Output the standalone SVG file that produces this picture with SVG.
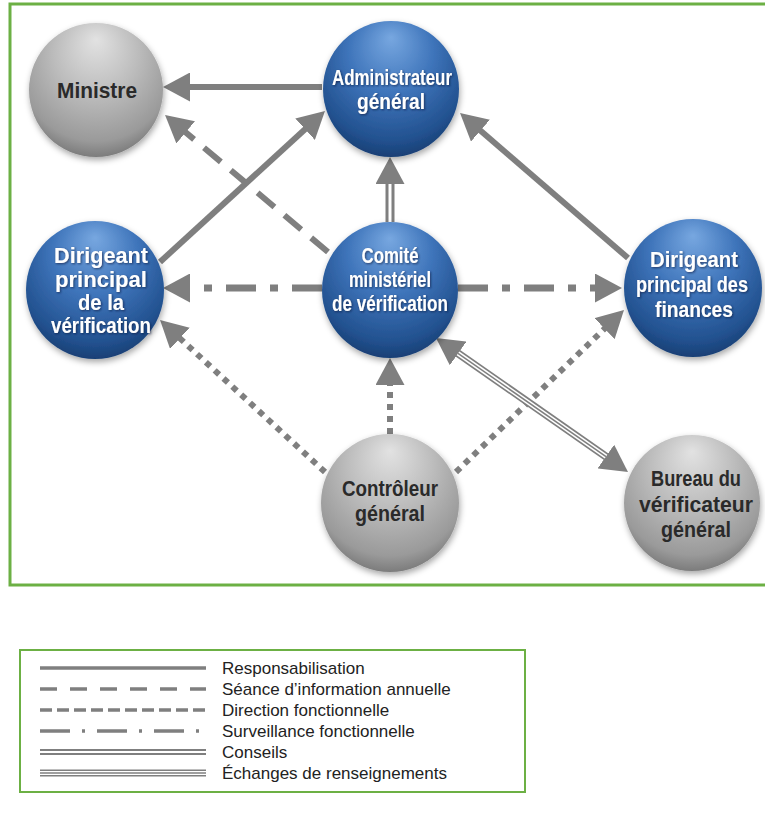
<svg xmlns="http://www.w3.org/2000/svg" width="765" height="838" viewBox="0 0 765 838">
<style>
.frame{fill:none;stroke:#6cb044;stroke-width:3}
.c{stroke:#7f7f7f;fill:none}
.solid{stroke-width:6}
.dash{stroke-width:6;stroke-dasharray:22 13}
.dot{stroke-width:6;stroke-dasharray:6 6}
.dd{stroke-width:7;stroke-dasharray:30 14 8 14}
.wl{stroke:#ffffff;fill:none}
.tb{font-family:"Liberation Sans",Arial,sans-serif;font-weight:bold;font-size:22px;fill:#ffffff;text-anchor:middle}
.tg{font-family:"Liberation Sans",Arial,sans-serif;font-weight:bold;font-size:22px;fill:#2a2a2a;text-anchor:middle}
.lg{font-family:"Liberation Sans",Arial,sans-serif;font-size:17px;fill:#222222}
.ls{stroke:#7f7f7f;fill:none}
</style>
<defs>
<radialGradient id="gb" cx="0.5" cy="0.35" r="0.7" fx="0.5" fy="0.12">
<stop offset="0" stop-color="#77a7e0"/>
<stop offset="0.45" stop-color="#3e74ba"/>
<stop offset="0.82" stop-color="#22518f"/>
<stop offset="1" stop-color="#15386a"/>
</radialGradient>
<radialGradient id="gg" cx="0.5" cy="0.35" r="0.7" fx="0.5" fy="0.12">
<stop offset="0" stop-color="#e2e2e2"/>
<stop offset="0.45" stop-color="#bcbcbc"/>
<stop offset="0.82" stop-color="#9a9a9a"/>
<stop offset="1" stop-color="#6f6f6f"/>
</radialGradient>
<filter id="sh" x="-20%" y="-20%" width="140%" height="150%">
<feDropShadow dx="1" dy="3" stdDeviation="3" flood-color="#000" flood-opacity="0.35"/>
</filter>
<filter id="ts" x="-10%" y="-30%" width="120%" height="160%">
<feDropShadow dx="1" dy="1" stdDeviation="0.8" flood-color="#0a1f40" flood-opacity="0.7"/>
</filter>
<marker id="ah" viewBox="0 0 27 29" markerWidth="27" markerHeight="29" refX="17" refY="14.5" orient="auto-start-reverse" markerUnits="userSpaceOnUse">
<path d="M0,0L27,14.5L0,29z" fill="#7f7f7f"/>
</marker>
</defs>
<rect width="765" height="838" fill="#ffffff"/>
<rect class="frame" x="10" y="4" width="757" height="581"/>

<g id="connectors">
<!-- Responsabilisation -->
<path class="c solid" d="M322,87L173,87" marker-end="url(#ah)"/>
<path class="c solid" d="M160,262L317.6,117.8" marker-end="url(#ah)"/>
<path class="c solid" d="M628,258L467.6,119.5" marker-end="url(#ah)"/>
<!-- Conseils -->
<path class="c" stroke-width="9" d="M390,222L390,167" marker-end="url(#ah)"/>
<path class="wl" stroke-width="3" d="M390,222L390,184"/>
<!-- Séance d'information annuelle -->
<path class="c dash" d="M328,252L172.7,121.4" marker-end="url(#ah)"/>
<!-- Surveillance fonctionnelle -->
<path class="c dd" d="M322,288L173,288" marker-end="url(#ah)"/>
<path class="c dd" d="M458,288L612,288" marker-end="url(#ah)"/>
<!-- Direction fonctionnelle -->
<path class="c dot" d="M325,472L167.4,326.8" marker-end="url(#ah)"/>
<path class="c dot" d="M390,434L390,368" marker-end="url(#ah)"/>
<path class="c dot" d="M456,472L616.8,316.9" marker-end="url(#ah)"/>
<!-- Échanges de renseignements -->
<path class="c" stroke-width="8" d="M444.2,343.7L619.8,466.3" marker-start="url(#ah)" marker-end="url(#ah)"/>
<path class="wl" stroke-width="4.6" d="M458,353.4L606,456.6"/>
<path class="c" stroke-width="1.5" d="M458,353.4L606,456.6"/>
</g>

<g id="ministre">
<circle cx="96" cy="90" r="67" fill="url(#gg)" filter="url(#sh)"/>
<text class="tg" x="97" y="98" font-size="24" textLength="80" lengthAdjust="spacingAndGlyphs">Ministre</text>
</g>
<g id="administrateur">
<circle cx="391" cy="89" r="68" fill="url(#gb)" filter="url(#sh)"/>
<g filter="url(#ts)">
<text class="tb" x="392" y="85" textLength="120" lengthAdjust="spacingAndGlyphs">Administrateur</text>
<text class="tb" x="391" y="109" textLength="68" lengthAdjust="spacingAndGlyphs">général</text>
</g>
</g>
<g id="dirigeant-verification">
<circle cx="95" cy="290" r="69" fill="url(#gb)" filter="url(#sh)"/>
<g filter="url(#ts)">
<text class="tb" x="101" y="263" textLength="94" lengthAdjust="spacingAndGlyphs">Dirigeant</text>
<text class="tb" x="101" y="287" textLength="92" lengthAdjust="spacingAndGlyphs">principal</text>
<text class="tb" x="101" y="310" textLength="46" lengthAdjust="spacingAndGlyphs">de la</text>
<text class="tb" x="101" y="333" textLength="100" lengthAdjust="spacingAndGlyphs">vérification</text>
</g>
</g>
<g id="comite">
<circle cx="390" cy="290" r="68" fill="url(#gb)" filter="url(#sh)"/>
<g filter="url(#ts)">
<text class="tb" x="390" y="263" textLength="57" lengthAdjust="spacingAndGlyphs">Comité</text>
<text class="tb" x="390" y="287" textLength="82" lengthAdjust="spacingAndGlyphs">ministériel</text>
<text class="tb" x="390" y="311" textLength="116" lengthAdjust="spacingAndGlyphs">de vérification</text>
</g>
</g>
<g id="dirigeant-finances">
<circle cx="693" cy="288" r="69" fill="url(#gb)" filter="url(#sh)"/>
<g filter="url(#ts)">
<text class="tb" x="694" y="267" textLength="88" lengthAdjust="spacingAndGlyphs">Dirigeant</text>
<text class="tb" x="692" y="292" font-size="19" textLength="112" lengthAdjust="spacingAndGlyphs">principal des</text>
<text class="tb" x="694" y="317" textLength="78" lengthAdjust="spacingAndGlyphs">finances</text>
</g>
</g>
<g id="controleur">
<circle cx="390" cy="503" r="69" fill="url(#gg)" filter="url(#sh)"/>
<text class="tg" x="390" y="496" textLength="96" lengthAdjust="spacingAndGlyphs">Contrôleur</text>
<text class="tg" x="390" y="521" textLength="70" lengthAdjust="spacingAndGlyphs">général</text>
</g>
<g id="bureau">
<circle cx="692" cy="503" r="68" fill="url(#gg)" filter="url(#sh)"/>
<text class="tg" x="696" y="486" textLength="90" lengthAdjust="spacingAndGlyphs">Bureau du</text>
<text class="tg" x="696" y="512" textLength="114" lengthAdjust="spacingAndGlyphs">vérificateur</text>
<text class="tg" x="696" y="537" textLength="70" lengthAdjust="spacingAndGlyphs">général</text>
</g>

<g id="legend">
<rect x="20" y="650" width="505" height="142" fill="none" stroke="#6cb044" stroke-width="2"/>
<line class="ls" x1="40" y1="668" x2="206" y2="668" stroke-width="3.5"/>
<line class="ls" x1="40" y1="689" x2="206" y2="689" stroke-width="3.5" stroke-dasharray="17 13"/>
<line class="ls" x1="40" y1="710" x2="206" y2="710" stroke-width="3.5" stroke-dasharray="12 5"/>
<line class="ls" x1="40" y1="731" x2="206" y2="731" stroke-width="3.5" stroke-dasharray="30 12 3 12"/>
<line class="ls" x1="40" y1="752" x2="206" y2="752" stroke-width="6"/>
<line class="wl" x1="40" y1="752" x2="206" y2="752" stroke-width="2"/>
<line class="ls" x1="40" y1="773" x2="206" y2="773" stroke-width="7"/>
<line class="wl" x1="40" y1="773" x2="206" y2="773" stroke-width="4"/>
<line class="ls" x1="40" y1="773" x2="206" y2="773" stroke-width="1.5"/>
<text class="lg" x="222" y="674">Responsabilisation</text>
<text class="lg" x="222" y="695">Séance d’information annuelle</text>
<text class="lg" x="222" y="716">Direction fonctionnelle</text>
<text class="lg" x="222" y="737">Surveillance fonctionnelle</text>
<text class="lg" x="222" y="758">Conseils</text>
<text class="lg" x="222" y="779">Échanges de renseignements</text>
</g>
</svg>
